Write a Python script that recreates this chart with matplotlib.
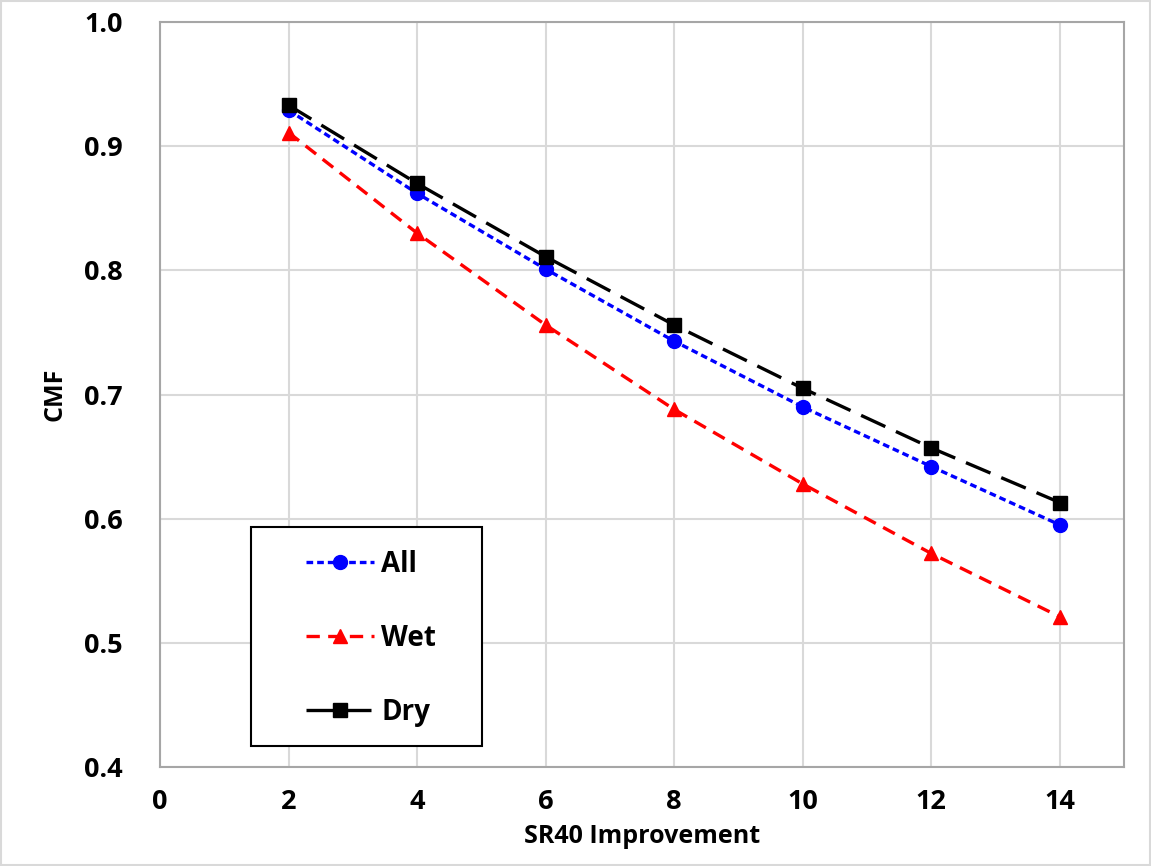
import matplotlib.pyplot as plt
from matplotlib.patches import Rectangle

plt.rcParams['font.family'] = ['Open Sans', 'DejaVu Sans']

sr40 = [2, 4, 6, 8, 10, 12, 14]
cmf_all = [0.929, 0.862, 0.801, 0.743, 0.690, 0.642, 0.595]
cmf_wet = [0.911, 0.830, 0.756, 0.688, 0.628, 0.572, 0.521]
cmf_dry = [0.933, 0.870, 0.811, 0.756, 0.705, 0.657, 0.613]

fig = plt.figure(figsize=(11.51, 8.66), dpi=100)
ax = fig.add_axes([0.139, 0.1143, 0.8376, 0.8603])

ax.plot(sr40, cmf_all, color='blue', lw=2.4, dashes=(2, 1.2), marker='o', ms=10, label='All', zorder=4)
ax.plot(sr40, cmf_wet, color='red', lw=2.4, dashes=(4, 2.5), marker='^', ms=10, label='Wet', zorder=3)
ax.plot(sr40, cmf_dry, color='black', lw=2.4, dashes=(8, 3.5), marker='s', ms=10.5, label='Dry', zorder=5)

ax.set_xlim(0, 15)
ax.set_ylim(0.4, 1.0)
ax.set_xticks(range(0, 15, 2))
ax.set_yticks([0.4, 0.5, 0.6, 0.7, 0.8, 0.9, 1.0])
ax.set_yticklabels(['0.4', '0.5', '0.6', '0.7', '0.8', '0.9', '1.0'])
ax.grid(True, color='#d9d9d9', lw=1.5)
ax.set_axisbelow(True)
for s in ax.spines.values():
    s.set_color('#a6a6a6')
    s.set_linewidth(1.5)
ax.tick_params(length=0, labelsize=19.5)
ax.tick_params(axis='x', pad=16)
ax.tick_params(axis='y', pad=27)
for lbl in ax.get_xticklabels() + ax.get_yticklabels():
    lbl.set_fontweight('bold')
ax.set_xlabel('SR40 Improvement', fontsize=18, fontweight='bold', labelpad=6)
ax.set_ylabel('CMF', fontsize=18, fontweight='bold', labelpad=12)

# legend box drawn separately so the inner padding matches
ax.add_patch(Rectangle((0.094, 0.028), 0.24, 0.294, transform=ax.transAxes,
                       fill=True, facecolor='white', edgecolor='black', lw=1.5, zorder=6))
leg = ax.legend(loc='upper left', bbox_to_anchor=(0.1515, 0.291), frameon=False,
                prop={'weight': 'bold', 'size': 20}, labelspacing=1.62, handlelength=2.45,
                borderpad=0, handletextpad=0.25, borderaxespad=0)
leg.set_zorder(7)

fig.patches.append(Rectangle((0.001, 0.001), 0.998, 0.998, transform=fig.transFigure,
                             fill=False, edgecolor='#d9d9d9', lw=1.5))

fig.savefig('out.png', dpi=100)
